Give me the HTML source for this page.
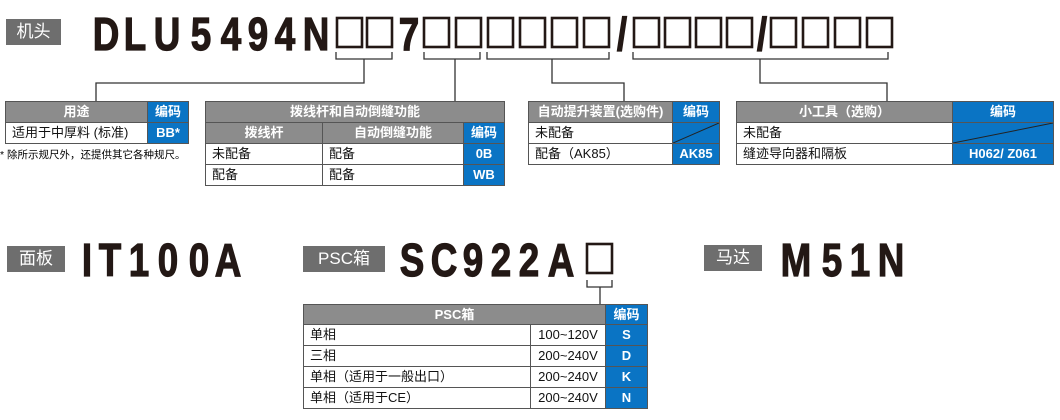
<!DOCTYPE html>
<html><head><meta charset="utf-8"><style>
body{margin:0;width:1060px;height:420px;background:#fff;position:relative;overflow:hidden;font-family:"Liberation Sans","Noto Sans CJK SC",sans-serif;}
.a{position:absolute;box-sizing:border-box;}
.lab{position:absolute;background:#6e6e6e;color:#fff;font-size:17px;line-height:26px;text-align:center;height:26px;}
.k{position:absolute;font-weight:bold;font-size:46px;line-height:46px;color:#231815;white-space:nowrap;transform:translateX(-50%) scaleX(0.8);-webkit-text-stroke:1.2px #231815;}
.c{position:absolute;box-sizing:border-box;border:1px solid #555;font-size:13px;line-height:19px;padding-left:6px;color:#111;white-space:nowrap;overflow:hidden;}
.g{background:#8c8c8c;color:#fff;font-weight:bold;text-align:center;padding:0;}
.b{background:#0a74c4;color:#fff;font-weight:bold;text-align:center;padding:0;}
.r{text-align:center;padding:0;}
</style></head><body>
<div class="lab" style="left:6px;top:19px;width:55px;">机头</div>
<div class="k" style="left:106px;top:11px;">D</div>
<div class="k" style="left:135px;top:11px;">L</div>
<div class="k" style="left:167px;top:11px;">U</div>
<div class="k" style="left:201px;top:11px;">5</div>
<div class="k" style="left:231px;top:11px;">4</div>
<div class="k" style="left:258px;top:11px;">9</div>
<div class="k" style="left:285px;top:11px;">4</div>
<div class="k" style="left:316px;top:11px;">N</div>
<div class="k" style="left:409px;top:11px;">7</div>
<div class="k" style="left:622px;top:11px;">/</div>
<div class="k" style="left:762px;top:11px;">/</div>
<svg class="a" style="left:0;top:0" width="1060" height="420">
<g fill="none" stroke="#231815" stroke-width="2.6">
<rect x="337" y="18" width="25" height="29"/><rect x="367" y="18" width="25" height="29"/>
<rect x="424" y="18" width="25" height="29"/><rect x="456" y="18" width="25" height="29"/><rect x="488" y="18" width="25" height="29"/><rect x="520" y="18" width="25" height="29"/><rect x="552" y="18" width="25" height="29"/><rect x="584" y="18" width="25" height="29"/>
<rect x="634" y="18" width="25" height="29"/><rect x="665" y="18" width="25" height="29"/><rect x="696" y="18" width="25" height="29"/><rect x="727" y="18" width="25" height="29"/>
<rect x="771" y="18" width="25" height="29"/><rect x="803" y="18" width="25" height="29"/><rect x="835" y="18" width="25" height="29"/><rect x="867" y="18" width="25" height="29"/>
<rect x="587" y="244" width="25" height="29"/>
</g>
<g fill="none" stroke="#333" stroke-width="1.3">
<path d="M336 52V59H392V52M364 59V83H96V101"/>
<path d="M424 52V59H480V52M455 59V101"/>
<path d="M487 52V59H609V52M552 59V83H624V101"/>
<path d="M633 52V59H888V52M760 59V83H887V101"/>
<path d="M587 280V287H612V280M600 287V305"/>
</g>
</svg>
<!-- T1 -->
<div class="c g" style="left:5px;top:101px;width:143px;height:22px;">用途</div>
<div class="c b" style="left:147px;top:101px;width:42px;height:22px;">编码</div>
<div class="c" style="left:5px;top:122px;width:143px;height:22px;font-size:13px;">适用于中厚料 (标准)</div>
<div class="c b" style="left:147px;top:122px;width:42px;height:22px;">BB*</div>
<div class="a" style="left:0;top:148px;font-size:10.5px;line-height:14px;white-space:nowrap;">* 除所示规尺外，还提供其它各种规尺。</div>
<!-- T2 -->
<div class="c g" style="left:205px;top:101px;width:300px;height:22px;">拨线杆和自动倒缝功能</div>
<div class="c g" style="left:205px;top:122px;width:118px;height:22px;">拨线杆</div>
<div class="c g" style="left:322px;top:122px;width:142px;height:22px;">自动倒缝功能</div>
<div class="c b" style="left:463px;top:122px;width:42px;height:22px;">编码</div>
<div class="c" style="left:205px;top:143px;width:118px;height:22px;">未配备</div>
<div class="c" style="left:322px;top:143px;width:142px;height:22px;">配备</div>
<div class="c b" style="left:463px;top:143px;width:42px;height:22px;">0B</div>
<div class="c" style="left:205px;top:164px;width:118px;height:22px;">配备</div>
<div class="c" style="left:322px;top:164px;width:142px;height:22px;">配备</div>
<div class="c b" style="left:463px;top:164px;width:42px;height:22px;">WB</div>
<!-- T3 -->
<div class="c g" style="left:528px;top:101px;width:145px;height:22px;">自动提升装置(选购件)</div>
<div class="c b" style="left:672px;top:101px;width:48px;height:22px;">编码</div>
<div class="c" style="left:528px;top:122px;width:145px;height:22px;">未配备</div>
<div class="c b" style="left:672px;top:122px;width:48px;height:22px;"><svg width="46" height="20" style="position:absolute;left:0;top:0"><line x1="0" y1="20" x2="46" y2="0" stroke="#222" stroke-width="1"/></svg></div>
<div class="c" style="left:528px;top:143px;width:145px;height:22px;">配备（AK85）</div>
<div class="c b" style="left:672px;top:143px;width:48px;height:22px;">AK85</div>
<!-- T4 -->
<div class="c g" style="left:736px;top:101px;width:217px;height:22px;">小工具（选购）</div>
<div class="c b" style="left:952px;top:101px;width:102px;height:22px;">编码</div>
<div class="c" style="left:736px;top:122px;width:217px;height:22px;">未配备</div>
<div class="c b" style="left:952px;top:122px;width:102px;height:22px;"><svg width="100" height="20" style="position:absolute;left:0;top:0"><line x1="0" y1="20" x2="100" y2="0" stroke="#222" stroke-width="1"/></svg></div>
<div class="c" style="left:736px;top:143px;width:217px;height:22px;">缝迹导向器和隔板</div>
<div class="c b" style="left:952px;top:143px;width:102px;height:22px;">H062/ Z061</div>
<!-- bottom -->
<div class="lab" style="left:7px;top:246px;width:58px;">面板</div>
<div class="k" style="left:87px;top:237px;">I</div>
<div class="k" style="left:110px;top:237px;">T</div>
<div class="k" style="left:139px;top:237px;">1</div>
<div class="k" style="left:168px;top:237px;">0</div>
<div class="k" style="left:199px;top:237px;">0</div>
<div class="k" style="left:228px;top:237px;">A</div>
<div class="lab" style="left:303px;top:246px;width:82px;">PSC箱</div>
<div class="k" style="left:412px;top:237px;">S</div>
<div class="k" style="left:444px;top:237px;">C</div>
<div class="k" style="left:473px;top:237px;">9</div>
<div class="k" style="left:501px;top:237px;">2</div>
<div class="k" style="left:529px;top:237px;">2</div>
<div class="k" style="left:561px;top:237px;">A</div>
<div class="lab" style="left:704px;top:245px;width:58px;">马达</div>
<div class="k" style="left:796px;top:237px;">M</div>
<div class="k" style="left:832px;top:237px;">5</div>
<div class="k" style="left:860px;top:237px;">1</div>
<div class="k" style="left:891px;top:237px;">N</div>
<!-- PSC table -->
<div class="c g" style="left:303px;top:304px;width:303px;height:21px;">PSC箱</div>
<div class="c b" style="left:605px;top:304px;width:43px;height:21px;">编码</div>
<div class="c" style="left:303px;top:324px;width:228px;height:22px;">单相</div>
<div class="c r" style="left:530px;top:324px;width:76px;height:22px;">100~120V</div>
<div class="c b" style="left:605px;top:324px;width:43px;height:22px;">S</div>
<div class="c" style="left:303px;top:345px;width:228px;height:22px;">三相</div>
<div class="c r" style="left:530px;top:345px;width:76px;height:22px;">200~240V</div>
<div class="c b" style="left:605px;top:345px;width:43px;height:22px;">D</div>
<div class="c" style="left:303px;top:366px;width:228px;height:22px;">单相（适用于一般出口）</div>
<div class="c r" style="left:530px;top:366px;width:76px;height:22px;">200~240V</div>
<div class="c b" style="left:605px;top:366px;width:43px;height:22px;">K</div>
<div class="c" style="left:303px;top:387px;width:228px;height:22px;">单相（适用于CE）</div>
<div class="c r" style="left:530px;top:387px;width:76px;height:22px;">200~240V</div>
<div class="c b" style="left:605px;top:387px;width:43px;height:22px;">N</div>
</body></html>
